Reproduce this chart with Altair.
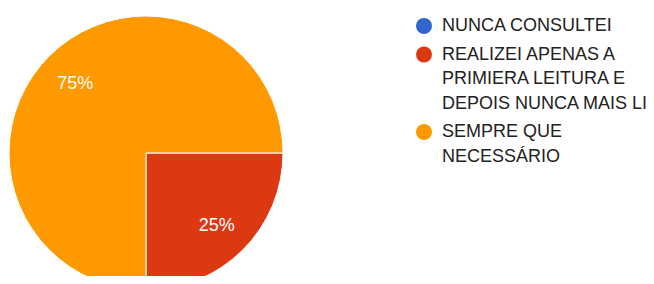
import math
import altair as alt
import pandas as pd

categories = ["NUNCA CONSULTEI",
              "REALIZEI APENAS A PRIMIERA LEITURA E DEPOIS NUNCA MAIS LI",
              "SEMPRE QUE NECESSÁRIO"]
legend_lines = ["NUNCA CONSULTEI",
                "REALIZEI APENAS A|PRIMIERA LEITURA E|DEPOIS NUNCA MAIS LI",
                "SEMPRE QUE|NECESSÁRIO"]
values = [0, 25, 75]
colors = ["#3366cc", "#dc3912", "#ff9900"]

df = pd.DataFrame({
    "cat": categories,
    "legend": legend_lines,
    "value": values,
    "idx": list(range(len(categories))),
})
df["pct"] = df["value"].astype(int).astype(str) + "%"

FONT = "Liberation Sans"
LINE_H = 24.5
ENTRY_GAP = 4.0
LEG_TOP = 18

color_scale = alt.Scale(domain=categories, range=colors)
theta_scale = alt.Scale(range=[math.pi / 2, math.pi / 2 + 2 * math.pi])

base = alt.Chart(df)

pie = base.mark_arc(outerRadius=137, stroke="white", strokeWidth=1).encode(
    theta=alt.Theta("value:Q", stack=True, scale=theta_scale),
    color=alt.Color("cat:N", scale=color_scale, legend=None),
    order=alt.Order("idx:Q"),
    x=alt.value(138),
    y=alt.value(145),
)

labels = base.transform_filter("datum.value > 0").mark_text(
    radius=100, font=FONT, fontSize=18, color="white", dy=2
).encode(
    theta=alt.Theta("value:Q", stack=True, scale=theta_scale),
    order=alt.Order("idx:Q"),
    text="pct:N",
    x=alt.value(138),
    y=alt.value(145),
)

leg_base = base.transform_calculate(
    nlines="length(split(datum.legend, '|'))"
).transform_window(
    cum="sum(nlines)", sort=[alt.SortField("idx")], frame=[None, 0]
).transform_calculate(
    ypix=f"{LEG_TOP} + (datum.cum - datum.nlines) * {LINE_H} + datum.idx * {ENTRY_GAP}"
)

leg_y = alt.Y("ypix:Q", scale=None, axis=None)

leg_sym = leg_base.mark_point(shape="circle", filled=True, size=256, opacity=1).encode(
    x=alt.value(416),
    y=leg_y,
    color=alt.Color("cat:N", scale=color_scale, legend=None),
)

leg_txt = leg_base.mark_text(
    align="left", baseline="middle", font=FONT, fontSize=18,
    color="#222222", lineBreak="|", lineHeight=LINE_H,
).encode(
    x=alt.value(434),
    y=leg_y,
    text="legend:N",
)

chart = alt.layer(pie, labels, leg_sym, leg_txt).properties(
    width=638, height=268,
    autosize=alt.AutoSizeParams(type="none"),
    padding=0,
).configure_view(stroke=None)

chart.save("out.html", embed_options={"renderer": "svg", "actions": False})
